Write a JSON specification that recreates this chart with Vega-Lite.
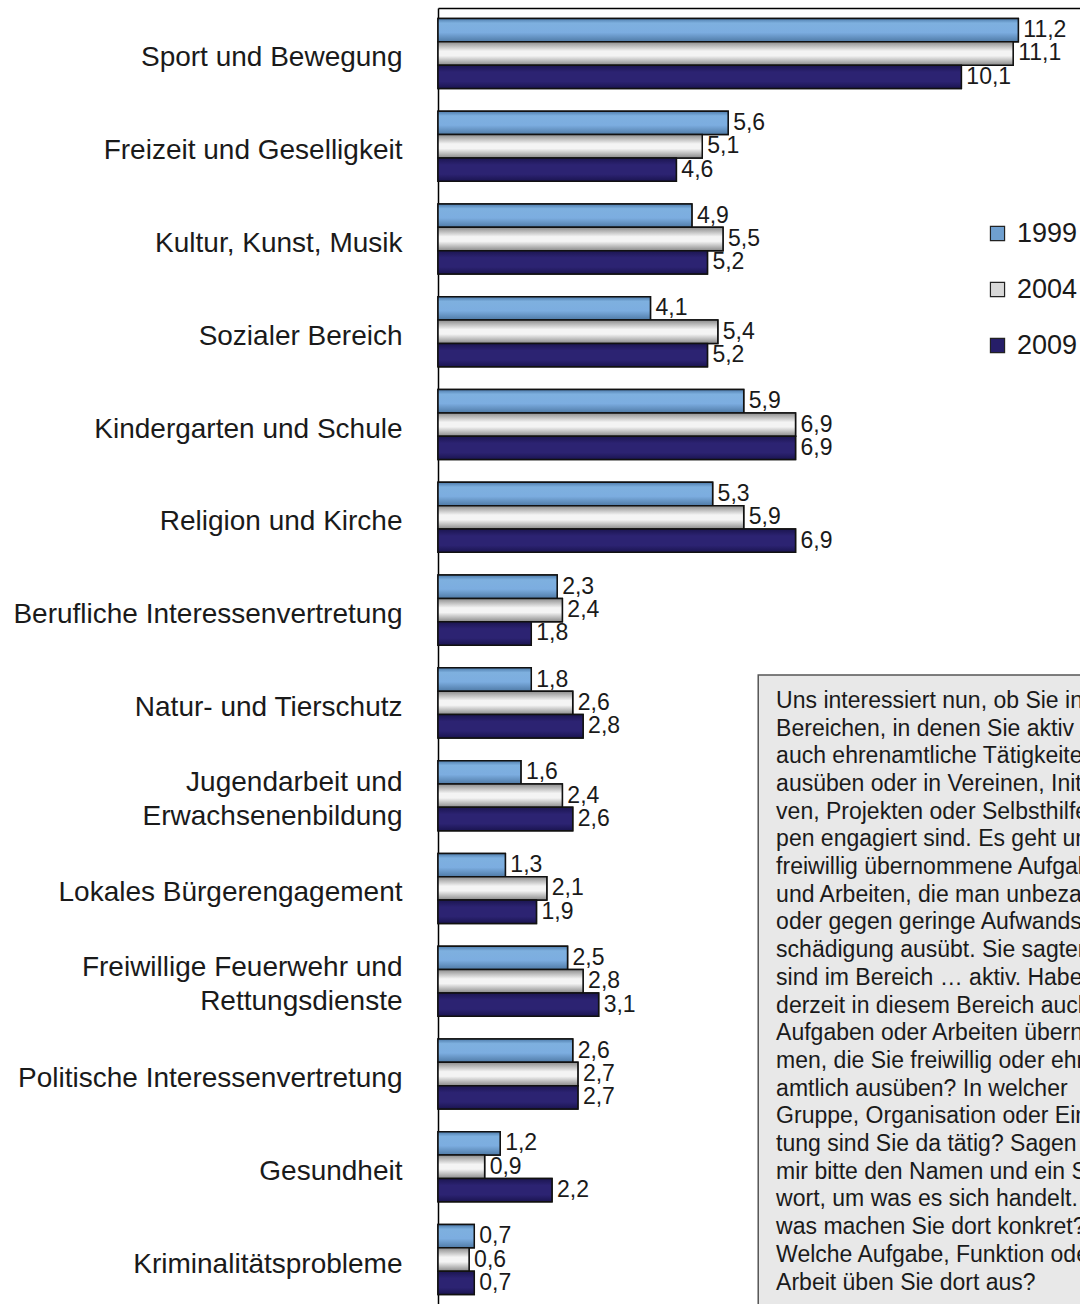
{
  "$schema": "https://vega.github.io/schema/vega-lite/v6.json",
  "autosize": "none",
  "padding": {"left": 438, "top": 8, "right": 0, "bottom": 0},
  "width": 642,
  "height": 1297,
  "background": "white",
  "config": {
    "view": {"stroke": null},
    "font": "Liberation Sans",
    "locale": {"number": {"decimal": ",", "thousands": ".", "grouping": [3], "currency": ["", " €"]}}
  },
  "data": {"values": [
    {"cat": "Sport und Bewegung", "year": "1999", "value": 11.2},
    {"cat": "Sport und Bewegung", "year": "2004", "value": 11.1},
    {"cat": "Sport und Bewegung", "year": "2009", "value": 10.1},
    {"cat": "Freizeit und Geselligkeit", "year": "1999", "value": 5.6},
    {"cat": "Freizeit und Geselligkeit", "year": "2004", "value": 5.1},
    {"cat": "Freizeit und Geselligkeit", "year": "2009", "value": 4.6},
    {"cat": "Kultur, Kunst, Musik", "year": "1999", "value": 4.9},
    {"cat": "Kultur, Kunst, Musik", "year": "2004", "value": 5.5},
    {"cat": "Kultur, Kunst, Musik", "year": "2009", "value": 5.2},
    {"cat": "Sozialer Bereich", "year": "1999", "value": 4.1},
    {"cat": "Sozialer Bereich", "year": "2004", "value": 5.4},
    {"cat": "Sozialer Bereich", "year": "2009", "value": 5.2},
    {"cat": "Kindergarten und Schule", "year": "1999", "value": 5.9},
    {"cat": "Kindergarten und Schule", "year": "2004", "value": 6.9},
    {"cat": "Kindergarten und Schule", "year": "2009", "value": 6.9},
    {"cat": "Religion und Kirche", "year": "1999", "value": 5.3},
    {"cat": "Religion und Kirche", "year": "2004", "value": 5.9},
    {"cat": "Religion und Kirche", "year": "2009", "value": 6.9},
    {"cat": "Berufliche Interessenvertretung", "year": "1999", "value": 2.3},
    {"cat": "Berufliche Interessenvertretung", "year": "2004", "value": 2.4},
    {"cat": "Berufliche Interessenvertretung", "year": "2009", "value": 1.8},
    {"cat": "Natur- und Tierschutz", "year": "1999", "value": 1.8},
    {"cat": "Natur- und Tierschutz", "year": "2004", "value": 2.6},
    {"cat": "Natur- und Tierschutz", "year": "2009", "value": 2.8},
    {"cat": "Jugendarbeit und Erwachsenenbildung", "year": "1999", "value": 1.6},
    {"cat": "Jugendarbeit und Erwachsenenbildung", "year": "2004", "value": 2.4},
    {"cat": "Jugendarbeit und Erwachsenenbildung", "year": "2009", "value": 2.6},
    {"cat": "Lokales Bürgerengagement", "year": "1999", "value": 1.3},
    {"cat": "Lokales Bürgerengagement", "year": "2004", "value": 2.1},
    {"cat": "Lokales Bürgerengagement", "year": "2009", "value": 1.9},
    {"cat": "Freiwillige Feuerwehr und Rettungsdienste", "year": "1999", "value": 2.5},
    {"cat": "Freiwillige Feuerwehr und Rettungsdienste", "year": "2004", "value": 2.8},
    {"cat": "Freiwillige Feuerwehr und Rettungsdienste", "year": "2009", "value": 3.1},
    {"cat": "Politische Interessenvertretung", "year": "1999", "value": 2.6},
    {"cat": "Politische Interessenvertretung", "year": "2004", "value": 2.7},
    {"cat": "Politische Interessenvertretung", "year": "2009", "value": 2.7},
    {"cat": "Gesundheit", "year": "1999", "value": 1.2},
    {"cat": "Gesundheit", "year": "2004", "value": 0.9},
    {"cat": "Gesundheit", "year": "2009", "value": 2.2},
    {"cat": "Kriminalitätsprobleme", "year": "1999", "value": 0.7},
    {"cat": "Kriminalitätsprobleme", "year": "2004", "value": 0.6},
    {"cat": "Kriminalitätsprobleme", "year": "2009", "value": 0.7}
  ]},
  "encoding": {
    "y": {
      "field": "cat", "type": "nominal", "sort": null,
      "scale": {"paddingInner": 0.245, "paddingOuter": 0.1125},
      "axis": {
        "title": null, "ticks": false, "domain": true, "domainColor": "#000", "domainWidth": 1.5,
        "labelFontSize": 28, "labelColor": "#1a1a1a", "labelPadding": 36, "labelLimit": 600,
        "labelLineHeight": 34,
        "labelOffset": {"expr": "datum.value == 'Jugendarbeit und Erwachsenenbildung' || datum.value == 'Freiwillige Feuerwehr und Rettungsdienste' ? -13 : 5"},
        "labelExpr": "datum.value == 'Jugendarbeit und Erwachsenenbildung' ? ['Jugendarbeit und', 'Erwachsenenbildung'] : datum.value == 'Freiwillige Feuerwehr und Rettungsdienste' ? ['Freiwillige Feuerwehr und', 'Rettungsdienste'] : datum.label"
      }
    },
    "x": {
      "field": "value", "type": "quantitative",
      "scale": {"domain": [0, 12.39], "nice": false, "zero": true},
      "axis": {"orient": "top", "title": null, "labels": false, "ticks": false, "grid": false, "domain": true, "domainColor": "#000", "domainWidth": 1.5}
    }
  },
  "layer": [
    {
      "mark": {"type": "bar", "stroke": "#111", "strokeWidth": 1.5},
      "encoding": {
        "yOffset": {"field": "year", "type": "nominal", "scale": {"paddingInner": 0, "paddingOuter": 0}},
        "color": {
          "field": "year", "type": "nominal",
          "scale": {"domain": ["1999", "2004", "2009"], "range": ["#6f9fcf", "#d8d8d8", "#261e68"]},
          "legend": {
            "title": null, "orient": "none", "legendX": 546, "legendY": 212,
            "symbolType": "square", "symbolSize": 200, "symbolStrokeColor": "#222", "symbolStrokeWidth": 1.2,
            "labelFontSize": 27, "labelColor": "#1a1a1a", "labelOffset": 6, "rowPadding": 28
          }
        }
      }
    },
    {
      "transform": [{"filter": "datum.year == '1999'"}],
      "mark": {"type": "bar", "stroke": "#111", "strokeWidth": 1.5,
        "fill": {"gradient": "linear", "x1": 0, "y1": 0, "x2": 0, "y2": 1, "stops": [
          {"offset": 0, "color": "#4d7bab"}, {"offset": 0.2, "color": "#7eb0df"}, {"offset": 0.6, "color": "#7cade0"}, {"offset": 1, "color": "#4f7aa6"}]}},
      "encoding": {"yOffset": {"field": "year", "type": "nominal"}}
    },
    {
      "transform": [{"filter": "datum.year == '2004'"}],
      "mark": {"type": "bar", "stroke": "#111", "strokeWidth": 1.5,
        "fill": {"gradient": "linear", "x1": 0, "y1": 0, "x2": 0, "y2": 1, "stops": [
          {"offset": 0, "color": "#8c8c8c"}, {"offset": 0.4, "color": "#f4f4f4"}, {"offset": 0.6, "color": "#f4f4f4"}, {"offset": 1, "color": "#8a8a8a"}]}},
      "encoding": {"yOffset": {"field": "year", "type": "nominal"}}
    },
    {
      "transform": [{"filter": "datum.year == '2009'"}],
      "mark": {"type": "bar", "stroke": "#111", "strokeWidth": 1.5,
        "fill": {"gradient": "linear", "x1": 0, "y1": 0, "x2": 0, "y2": 1, "stops": [
          {"offset": 0, "color": "#1b1550"}, {"offset": 0.3, "color": "#2c2372"}, {"offset": 0.7, "color": "#2c2372"}, {"offset": 1, "color": "#1a1450"}]}},
      "encoding": {"yOffset": {"field": "year", "type": "nominal"}}
    },
    {
      "mark": {"type": "text", "align": "left", "baseline": "middle", "dx": 5, "fontSize": 23, "color": "#1a1a1a"},
      "encoding": {
        "yOffset": {"field": "year", "type": "nominal"},
        "text": {"field": "value", "type": "quantitative", "format": ".1f"}
      }
    },
    {
      "transform": [{"filter": "datum.cat == 'Natur- und Tierschutz' && datum.year == '1999'"}],
      "mark": {"type": "rect", "fill": "#e8e8e8", "stroke": "#555", "strokeWidth": 1.5, "yOffset": -28, "y2Offset": 50},
      "encoding": {
        "x": {"datum": 6.18, "type": "quantitative"},
        "x2": {"datum": 13},
        "y": {"datum": "Natur- und Tierschutz", "type": "nominal"},
        "y2": {"datum": "Kriminalitätsprobleme"}
      }
    },
    {
      "transform": [{"filter": "datum.cat == 'Natur- und Tierschutz' && datum.year == '1999'"}],
      "mark": {"type": "text", "align": "left", "baseline": "top", "fontSize": 23, "lineHeight": 27.7, "dy": -13, "color": "#1a1a1a",
        "text": [
          "Uns interessiert nun, ob Sie in den",
          "Bereichen, in denen Sie aktiv sind,",
          "auch ehrenamtliche Tätigkeiten",
          "ausüben oder in Vereinen, Initiati-",
          "ven, Projekten oder Selbsthilfegrup-",
          "pen engagiert sind. Es geht um",
          "freiwillig übernommene Aufgaben",
          "und Arbeiten, die man unbezahlt",
          "oder gegen geringe Aufwandsent-",
          "schädigung ausübt. Sie sagten, Sie",
          "sind im Bereich … aktiv. Haben Sie",
          "derzeit in diesem Bereich auch",
          "Aufgaben oder Arbeiten übernom-",
          "men, die Sie freiwillig oder ehren-",
          "amtlich ausüben? In welcher",
          "Gruppe, Organisation oder Einrich-",
          "tung sind Sie da tätig? Sagen Sie",
          "mir bitte den Namen und ein Stich-",
          "wort, um was es sich handelt. Und",
          "was machen Sie dort konkret?",
          "Welche Aufgabe, Funktion oder",
          "Arbeit üben Sie dort aus?"
        ]},
      "encoding": {
        "x": {"datum": 6.525, "type": "quantitative"},
        "y": {"datum": "Natur- und Tierschutz", "type": "nominal"}
      }
    }
  ]
}
